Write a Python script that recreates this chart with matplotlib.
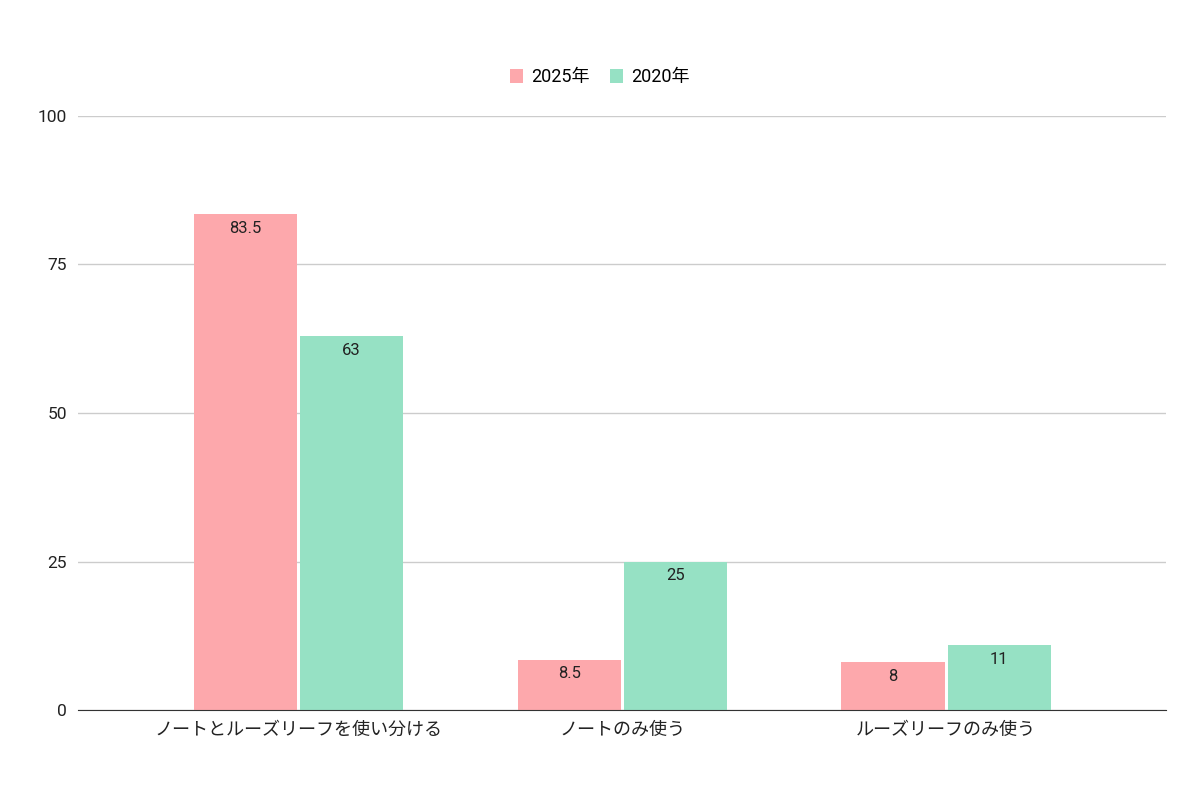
import numpy as np
import matplotlib.pyplot as plt

plt.rcParams['font.family'] = ['Roboto', 'Noto Sans CJK JP', 'DejaVu Sans']

categories = ['ノートとルーズリーフを使い分ける', 'ノートのみ使う', 'ルーズリーフのみ使う']
series_names = ['2025年', '2020年']
values_2025 = [83.5, 8.5, 8]
values_2020 = [63, 25, 11]
colors = ['#FDA8AC', '#96E1C4']

fig = plt.figure(figsize=(12, 8), dpi=100)
ax = fig.add_axes([0.065, 0.1125, 0.907, 0.7425])

x = np.arange(len(categories))
w = 0.318
gap = 0.005
bars1 = ax.bar(x - w / 2 - gap, values_2025, w, color=colors[0], label=series_names[0], zorder=2)
bars2 = ax.bar(x + w / 2 + gap, values_2020, w, color=colors[1], label=series_names[1], zorder=2)

for bars in (bars1, bars2):
    for b in bars:
        v = b.get_height()
        txt = ('%g' % v)
        ax.annotate(txt, (b.get_x() + b.get_width() / 2, v), xytext=(0, -5),
                    textcoords='offset points', ha='center', va='top', fontsize=12, color='#222222')

ax.set_xlim(-0.68, 2.68)
ax.set_ylim(0, 100)
ax.set_yticks([0, 25, 50, 75, 100])
ax.set_xticks(x)
ax.set_xticklabels(categories, fontsize=13, color='#222222')
ax.tick_params(axis='y', labelsize=12.5, colors='#222222', length=0, pad=8)
ax.tick_params(axis='x', length=0, pad=8)
ax.grid(axis='y', color='#CCCCCC', linewidth=1, zorder=0)
for s in ['top', 'right', 'left']:
    ax.spines[s].set_visible(False)
ax.spines['bottom'].set_color('#333333')
ax.spines['bottom'].set_zorder(3)

leg = fig.legend(loc='upper center', bbox_to_anchor=(0.5, 0.935), ncol=2, frameon=False,
                 fontsize=13, handlelength=0.75, handleheight=0.75, columnspacing=1.1, handletextpad=0.45)

fig.savefig('out.png', dpi=100)
